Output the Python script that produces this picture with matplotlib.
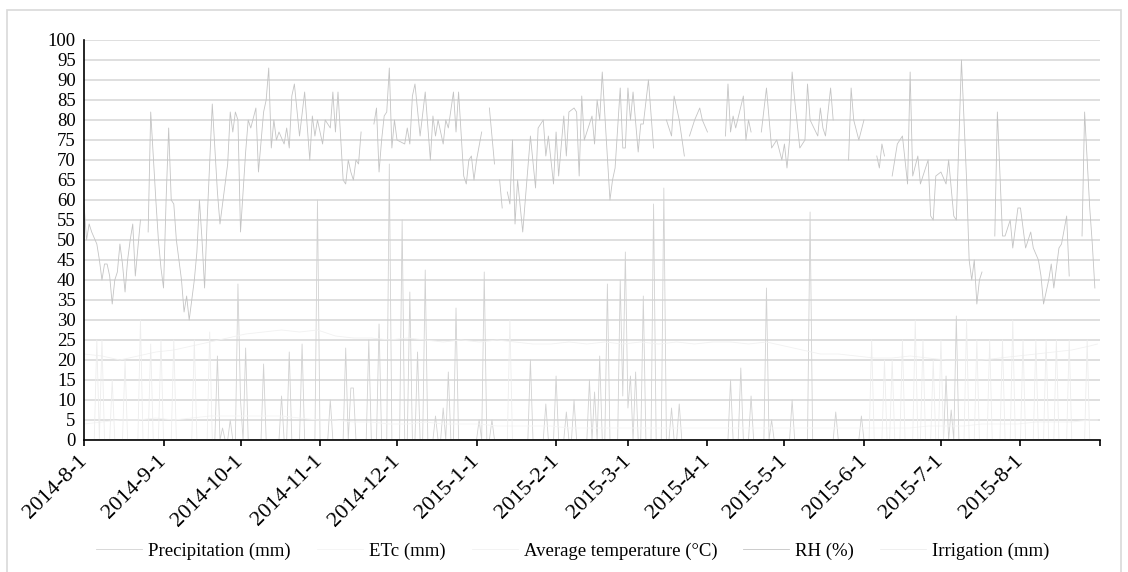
import datetime as dt
import numpy as np
import matplotlib
matplotlib.use("Agg")
import matplotlib.pyplot as plt
from matplotlib.patches import Rectangle

plt.rcParams['font.family'] = ['Liberation Serif', 'DejaVu Serif']

start = dt.date(2014, 8, 1)
n_days = 396  # 2014-8-1 .. 2015-8-31

# relative humidity (%), day offset from 2014-8-1; None = no record
rh_day = [0, 1, 2, 3, 5, 6, 7, 8, 9, 10, 11, 12, 13, 14, 15, 16, 17, 18, 19, 20, 21, 22, 23,
          25, 26, 27, 28, 29, 30, 31, 32, 33, 34, 35, 36, 37, 38, 39, 40, 41, 42, 43, 44, 45, 46, 47, 48,
          50, 52, 53, 55, 56, 57, 58, 59, 60, 61, 63, 64, 65, 67, 68, 70, 71, 72, 73, 74, 75, 76, 78,
          79, 80, 81, 82, 84, 86, 88, 89, 90, 91, 93, 94, 96, 97, 98, 99, 101, 102, 103, 104, 105,
          106, 107, 108, 110,
          113, 114, 115, 116, 117, 118, 119, 120, 121, 122, 125, 126, 127, 128, 129, 131, 133, 135,
          136, 137, 138, 140, 141, 142, 144, 145, 146, 148, 149, 150, 151, 152, 153, 155, 156,
          158, 160, 161, 162, 163, 164,
          165, 166, 167, 168, 169, 171, 172, 174, 176, 177, 179, 180, 181, 183, 184, 185, 187, 188,
          189, 191, 192, 193, 194, 195, 196, 198, 199, 200, 201, 202, 205, 206, 207, 209, 210, 211,
          212, 213, 214, 216, 217, 218, 220, 222, 224,
          227, 229, 230, 232, 234, 235, 236, 238, 240, 241, 243, 246,
          250, 251, 252, 253, 254, 257, 258, 259, 260, 262,
          264, 266, 268, 270, 272, 273, 274, 275, 276, 277, 279, 281, 282, 283, 286, 287, 288, 289,
          291, 292, 295,
          298, 299, 300, 302, 304, 306, 309, 310, 311, 312, 313,
          315, 317, 319, 321, 322, 323, 325, 326, 329, 330, 331, 332, 334, 336, 337, 339, 340, 342,
          344, 345, 346, 347, 348, 349, 350, 352,
          355, 356, 358, 359, 361, 362, 364, 365, 367, 369, 370, 372, 373, 374, 376, 377, 378, 380,
          381, 383, 384, 386,
          389, 390, 392, 393, 394]
rh_pct = [59, 50, 54, 52, 49, 45, 40, 44, 44, 41, 34, 40, 42, 49, 44, 37, 45, 50, 54, 41, 48, 55, None,
          52, 82, 71, 60, 50, 43, 38, 60, 78, 60, 59, 50, 45, 40, 32, 36, 30, 35, 40, 47, 60, 50, 38, 55,
          84, 62, 54, 64, 69, 82, 77, 82, 80, 52, 72, 80, 78, 83, 67, 82, 85, 93, 73, 80, 75, 77, 74,
          78, 73, 86, 89, 76, 87, 70, 81, 76, 80, 74, 80, 78, 87, 77, 87, 65, 64, 70, 67, 65,
          70, 69, 77, None,
          79, 83, 67, 75, 81, 82, 93, 73, 80, 75, 74, 78, 74, 86, 89, 76, 87, 70,
          81, 76, 80, 74, 80, 78, 87, 77, 87, 66, 64, 70, 71, 65, 70, 77, None,
          83, 69, None, 65, 58, None,
          62, 59, 75, 54, 65, 52, 60, 76, 63, 78, 80, 71, 76, 64, 77, 66, 81, 71,
          82, 83, 82, 66, 86, 75, 77, 81, 74, 85, 80, 92, 60, 65, 68, 88, 73, 73,
          88, 80, 87, 72, 79, 79, 90, 73, None,
          80, 76, 86, 80, 71, None, 76, 80, 83, 80, 77, None,
          76, 89, 77, 81, 78, 86, 75, 80, 77, None,
          77, 88, 73, 75, 70, 74, 68, 75, 92, 85, 73, 75, 89, 80, 76, 83, 78, 76,
          88, 80, None,
          70, 88, 80, 75, 80, None, 71, 68, 74, 71, None,
          66, 74, 76, 64, 92, 66, 71, 64, 70, 56, 55, 66, 67, 64, 70, 56, 55, 95,
          65, 45, 40, 45, 34, 40, 42, None,
          51, 82, 51, 51, 55, 48, 58, 58, 48, 52, 48, 45, 41, 34, 40, 44, 38, 48,
          49, 56, 41, None,
          51, 82, 58, 49, 38]

# rain days (mm)
rain_day = [52, 54, 57, 60, 61, 63, 70, 77, 80, 85, 91, 96, 102, 104, 105, 111, 115, 119, 124,
            127, 130, 133, 137, 140, 142, 145, 154, 156, 159, 174, 180, 184, 188, 191, 197, 199,
            201, 204, 209, 210, 211, 212, 213, 215, 218, 222, 226, 229, 232, 252, 256, 260, 266,
            268, 276, 283, 293, 303, 336, 338, 340]
rain_mm = [21, 3, 5, 39, 10, 23, 19, 11, 22, 24, 60, 10, 23, 13, 13, 25, 29, 69, 55,
           37, 22, 42.5, 6, 8, 17, 33, 5, 42, 5, 20, 9, 16, 7, 10, 15, 12,
           21, 39, 40, 11, 47, 8, 16, 17, 36, 59, 63, 8, 9, 15, 18, 11, 38,
           5, 10, 57, 7, 6, 16, 7.5, 31]

# irrigation days (mm)
irr_day = [5, 7, 11, 16, 22, 26, 30, 35, 43, 49, 166,
           307, 312, 315, 319, 324, 327, 331, 334, 344, 348, 353, 358, 362, 366, 371, 375,
           379, 384, 391]
irr_mm = [25, 25, 15, 20, 30, 24, 25, 25, 25, 27, 30,
          25, 20, 20, 25, 30, 25, 20, 25, 30, 25, 25, 25, 30, 25, 25, 25,
          25, 25, 25]

# weekly readings of mean air temperature (deg C) and crop ET (mm)
wk_day = [0, 7, 14, 21, 28, 35, 42, 49, 56, 63, 70, 77, 84, 91, 98, 105, 112, 119, 126, 133,
          140, 147, 154, 161, 168, 175, 182, 189, 196, 203, 210, 217, 224, 231, 238, 245, 252,
          259, 266, 273, 280, 287, 294, 301, 308, 315, 322, 329, 336, 343, 350, 357, 364, 371,
          378, 385, 392, 395]
temp_c = [21.5, 21, 20, 21, 22, 22.5, 23.5, 24.5, 25.5, 26.5, 27, 27.5, 27, 27.5, 26, 25.5,
          25.5, 25, 25.5, 25, 24.5, 25, 24.5, 25, 24.5, 24, 24, 24.5, 24, 24.5, 24, 24.5, 24,
          24.5, 24, 24.5, 24.5, 24, 24.5, 23.5, 22.5, 21.5, 21.5, 21, 20.5, 20.5, 21, 20.5,
          20, 20, 20, 20.5, 21, 21.5, 22, 22.5, 23.5, 24]
etc_mm = [4, 4.5, 5, 5, 5.5, 5, 5.5, 6, 6, 6, 6, 6, 5.5, 5, 5, 4.5, 4.5, 4, 4, 4.5,
          4, 4, 4, 3.5, 3.5, 3.5, 3.5, 3, 3, 3, 3, 3, 3, 3, 3, 3, 3, 3, 3, 3, 3, 3, 3,
          3, 3, 3, 3, 3.5, 3.5, 3.5, 4, 4, 4, 4.5, 4.5, 4.5, 5, 5]

month_ticks = [dt.date(2014 + (7 + i) // 12, (7 + i) % 12 + 1, 1) for i in range(14)]


def to_dates(days):
    return [start + dt.timedelta(days=int(d)) for d in days]


all_dates = to_dates(range(n_days))
rain = np.zeros(n_days)
rain[rain_day] = rain_mm
irr = np.zeros(n_days)
irr[irr_day] = irr_mm

fig = plt.figure(figsize=(11.28, 5.72), dpi=100)
ax = fig.add_axes([84 / 1128, 1 - 440 / 572, 1016 / 1128, 400 / 572])

lw = 0.6
ax.plot(all_dates, rain, color='#d2d2d2', lw=lw, label='Precipitation (mm)')
ax.plot(to_dates(wk_day), etc_mm, color='#f4f4f4', lw=lw, label='ETc (mm)')
ax.plot(to_dates(wk_day), temp_c, color='#f1f1f1', lw=lw, label='Average temperature (°C)')
ax.plot(to_dates(rh_day), np.array(rh_pct, dtype=float), color='#c4c4c4', lw=lw, label='RH (%)')
ax.plot(all_dates, irr, color='#ededed', lw=lw, label='Irrigation (mm)')

ax.set_ylim(0, 100)
ax.set_yticks(range(0, 101, 5))
ax.set_xlim(month_ticks[0], month_ticks[-1])
ax.set_xticks(month_ticks)
ax.set_xticklabels([f"{d.year}-{d.month}-{d.day}" for d in month_ticks[:-1]] + [''],
                   rotation=45, ha='right', va='center', rotation_mode='anchor')
ax.grid(axis='y', color='#d9d9d9', lw=1.2)
ax.set_axisbelow(True)
for s in ['top', 'right']:
    ax.spines[s].set_visible(False)
for s in ['left', 'bottom']:
    ax.spines[s].set_linewidth(1.2)
    ax.spines[s].set_color('black')
ax.tick_params(axis='y', length=0, pad=6, labelsize=13.5)
ax.tick_params(axis='x', length=4, width=1.2, direction='out', pad=9, labelsize=16)

fig.legend(loc='center', bbox_to_anchor=(0.508, 1 - 551 / 572), ncol=5, frameon=False,
           fontsize=13.5, handlelength=2.45, handletextpad=0.32, columnspacing=1.39)

fig.patches.append(Rectangle((7 / 1128, -0.02), 1114 / 1128, 1.02 - 10 / 572, transform=fig.transFigure,
                             fill=False, edgecolor='#d9d9d9', lw=1.2))

fig.savefig('out.png', dpi=100)
